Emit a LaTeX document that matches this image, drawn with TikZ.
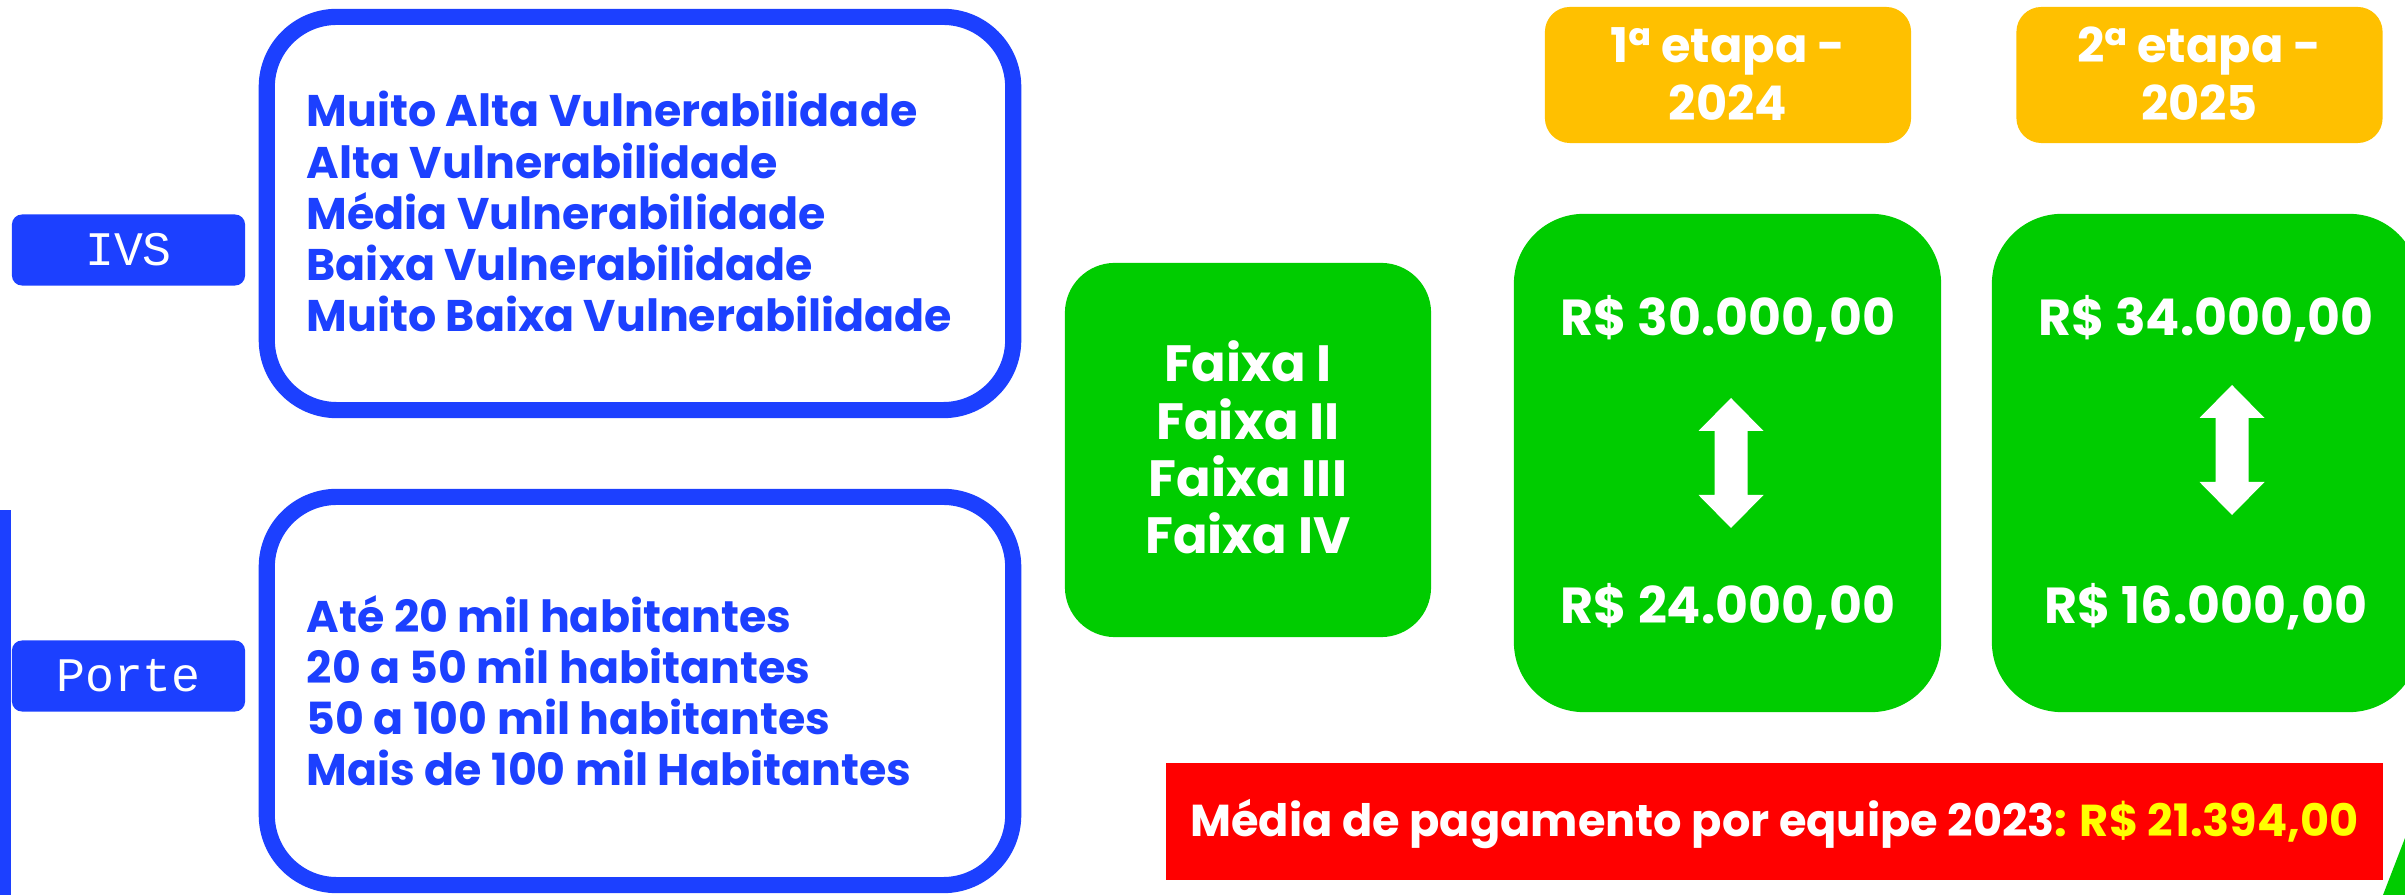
\documentclass[tikz,border=0pt]{standalone}
\usepackage{fontspec}
\setmainfont{Poppins}
\newfontfamily\tagfont{Liberation Mono}
\definecolor{ivsblue}{RGB}{28,64,255}
\definecolor{faixagreen}{RGB}{0,204,0}
\definecolor{etapaorange}{RGB}{255,192,0}
\definecolor{mediared}{RGB}{255,0,0}
\definecolor{valueyellow}{RGB}{255,255,0}

\begin{document}
\begin{tikzpicture}[x=0.01cm, y=-0.01cm,
    outline/.style={draw=ivsblue, line width=4.6pt, rounded corners=0.7cm, minimum width=7.46cm},
    tag/.style={fill=ivsblue, rounded corners=0.1cm, minimum width=2.33cm, minimum height=0.71cm,
        text=white, font=\tagfont\fontsize{13.7pt}{15pt}\selectfont},
    greenbox/.style={fill=faixagreen, rounded corners=0.7cm, minimum width=4.27cm, minimum height=4.98cm},
    etapabox/.style={fill=etapaorange, rounded corners=0.25cm, minimum width=3.66cm, minimum height=1.36cm},
    listtxt/.style={anchor=base west, text=ivsblue, inner sep=0pt, font=\bfseries\fontsize{12.6pt}{14pt}\selectfont},
    whitetxt/.style={anchor=base, text=white, inner sep=0pt, font=\bfseries\fontsize{13.6pt}{16pt}\selectfont},
    valuetxt/.style={whitetxt, font=\bfseries\fontsize{14.4pt}{16pt}\selectfont}]
  \useasboundingbox (0,0) rectangle (2405,895);

  % left column: criteria tags and their lists
  \fill[ivsblue] (0,510) rectangle (11,895);
  \node[tag] (ivs) at (128.5,250) {IVS};
  \node[tag] (porte) at (128.5,676) {Porte};
  \node[outline, minimum height=3.93cm] (ivsbox) at (640,213.5) {};
  \node[outline, minimum height=3.88cm] (portebox) at (640,691) {};
  \foreach \txt [count=\i from 0] in {Muito Alta Vulnerabilidade, Alta Vulnerabilidade,
      Média Vulnerabilidade, Baixa Vulnerabilidade, Muito Baixa Vulnerabilidade} {
    \node[listtxt] (ivs\i) at (306, {127+51.25*\i}) {\txt};
  }
  \foreach \txt [count=\i from 0] in {Até 20 mil habitantes, 20 a 50 mil habitantes,
      50 a 100 mil habitantes, Mais de 100 mil Habitantes} {
    \node[listtxt] (porte\i) at (306, {633+50.7*\i}) {\txt};
  }

  % faixas
  \node[fill=faixagreen, rounded corners=0.5cm, minimum width=3.66cm, minimum height=3.74cm] (faixabox) at (1248,450) {};
  \foreach \txt [count=\i from 0] in {Faixa I, Faixa II, Faixa III, Faixa IV} {
    \node[whitetxt, font=\bfseries\fontsize{14.5pt}{16pt}\selectfont] (faixa\i) at (1248, {382+57.3*\i}) {\txt};
  }

  % etapas
  \node[etapabox] (etapa1) at (1728,75) {};
  \node[etapabox] (etapa2) at (2199.5,75) {};
  \node[whitetxt] (etapa1a) at (1728,63) {1ª etapa -};
  \node[whitetxt] (etapa1b) at (1728,121) {2024};
  \node[whitetxt] (etapa2a) at (2199.5,63) {2ª etapa -};
  \node[whitetxt] (etapa2b) at (2199.5,121) {2025};

  % valores
  \node[greenbox] (valor1) at (1727.5,463) {};
  \node[greenbox] (valor2) at (2205.5,463) {};
  \node[valuetxt] (max1) at (1728,336) {R\$ 30.000,00};
  \node[valuetxt] (min1) at (1728,624) {R\$ 24.000,00};
  \node[valuetxt] (max2) at (2206,336) {R\$ 34.000,00};
  \node[valuetxt] (min2) at (2206,624) {R\$ 16.000,00};
  \foreach \cx/\ty in {1731/398, 2232/385} {
    \fill[white] (\cx,\ty) -- ++(32.5,33) -- ++(-16,0) -- ++(0,64) -- ++(16,0) -- ++(-32.5,33)
      -- ++(-32.5,-33) -- ++(16,0) -- ++(0,-64) -- ++(-16,0) -- cycle;
  }

  % media 2023
  \node[fill=mediared, minimum width=12.17cm, minimum height=1.17cm] (mediabox) at (1774.5,821.5) {};
  \node[whitetxt, font=\bfseries\fontsize{12.7pt}{14pt}\selectfont] (media) at (1774.5,837)
    {Média de pagamento por equipe 2023\textcolor{valueyellow}{: R\$ 21.394,00}};
  \fill[faixagreen] (2383,895) -- (2405,838) -- (2405,895) -- cycle;
\end{tikzpicture}
\end{document}
